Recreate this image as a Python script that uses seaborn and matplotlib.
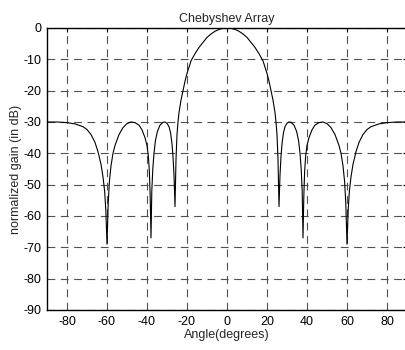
import matplotlib
matplotlib.use("Agg")
import matplotlib.pyplot as plt
import seaborn as sns
import pandas as pd

title = "Chebyshev Array"
x_label = "Angle(degrees)"
y_label = "normalized gain (in dB)"
x_ticks = [-80, -60, -40, -20, 0, 20, 40, 60, 80]
y_ticks = [0, -10, -20, -30, -40, -50, -60, -70, -80, -90]

angle_left = [-90, -85, -80, -76, -72, -70, -68, -66, -64.5, -63, -62, -61.2, -60.6, -60.0,
              -59.4, -58.8, -58, -57, -56, -54, -52, -50, -48, -46, -44, -42.5, -41, -40,
              -39.3, -38.8, -38.4, -38.0, -37.6, -37.1, -36.5, -35.8, -34.8, -33.5, -32,
              -31, -30, -29, -28.2, -27.5, -27, -26.5, -26.0, -25.5, -25, -24.5, -24, -23,
              -22, -21, -20, -18, -16, -14, -12, -10, -8, -6, -4, -2]
gain_left = [-30.0, -30.0, -30.2, -30.6, -31.5, -32.4, -34.0, -36.5, -39.5, -43.5, -47.5, -52, -58, -69,
             -56, -49, -44, -40, -37.5, -34, -31.8, -30.5, -30, -30.2, -31, -32.5, -35, -37.5,
             -41, -46, -54, -67, -52, -45, -40, -36, -33, -31, -30.1,
             -30, -30.4, -31.5, -33.5, -37, -41, -47, -57, -42, -34, -30, -27, -23,
             -20, -17, -14.5, -10.5, -8.2, -6.2, -4.6, -3.0, -1.9, -1.05, -0.45, -0.1]
angle_center = [0]
gain_center = [0.0]
angle_right = [2, 4, 6, 8, 10, 12, 14, 16, 18, 20, 21, 22, 23, 24, 24.5, 25, 25.5, 26.0,
               26.5, 27, 27.5, 28.2, 29, 30, 31, 32, 33.5, 34.8, 35.8, 36.5, 37.1, 37.6,
               38.0, 38.4, 38.8, 39.3, 40, 41, 42.5, 44, 46, 48, 50, 52, 54, 56, 57, 58,
               58.8, 59.4, 60.0, 60.6, 61.2, 62, 63, 64.5, 66, 68, 70, 72, 76, 80, 85, 90]
gain_right = [-0.1, -0.45, -1.05, -1.9, -3.0, -4.6, -6.2, -8.2, -10.5, -14.5, -17, -20, -23, -27, -30, -34, -42, -57,
              -47, -41, -37, -33.5, -31.5, -30.4, -30, -30.1, -31, -33, -36, -40, -45, -52,
              -67, -54, -46, -41, -37.5, -35, -32.5, -31, -30.2, -30, -30.5, -31.8, -34, -37.5, -40, -44,
              -49, -56, -69, -58, -52, -47.5, -43.5, -39.5, -36.5, -34.0, -32.4, -31.5, -30.6, -30.2, -30.0, -30.0]

df = pd.DataFrame({
    "angle": angle_left + angle_center + angle_right,
    "gain": gain_left + gain_center + gain_right,
})

sns.set_style("white")
plt.rcParams["font.family"] = ["Liberation Sans", "DejaVu Sans"]
plt.rcParams["font.size"] = 9

fig = plt.figure(figsize=(4.05, 3.5), dpi=100)
ax = fig.add_axes([47 / 405, 1 - 310 / 350, 360 / 405, 282 / 350])

sns.lineplot(data=df, x="angle", y="gain", ax=ax, color="black", linewidth=0.8, sort=True)

ax.set_xlim(-90, 90)
ax.set_ylim(-90, 0)
ax.set_xticks(x_ticks)
ax.set_yticks(y_ticks)
ax.set_xticklabels([str(t) for t in x_ticks])
ax.set_yticklabels([str(t) for t in y_ticks])
ax.grid(True, color="#505050", linestyle=(0, (7, 5)), linewidth=0.8)
ax.tick_params(direction="in", length=3, width=0.8, top=True, right=True,
               labelsize=9, colors="black", pad=4)
for s in ax.spines.values():
    s.set_color("black")
    s.set_linewidth(1.0)
ax.set_title(title, fontsize=9, pad=4)
ax.set_xlabel(x_label, fontsize=9, labelpad=1)
ax.set_ylabel(y_label, fontsize=9, labelpad=1)

fig.savefig("out.png", dpi=100)
